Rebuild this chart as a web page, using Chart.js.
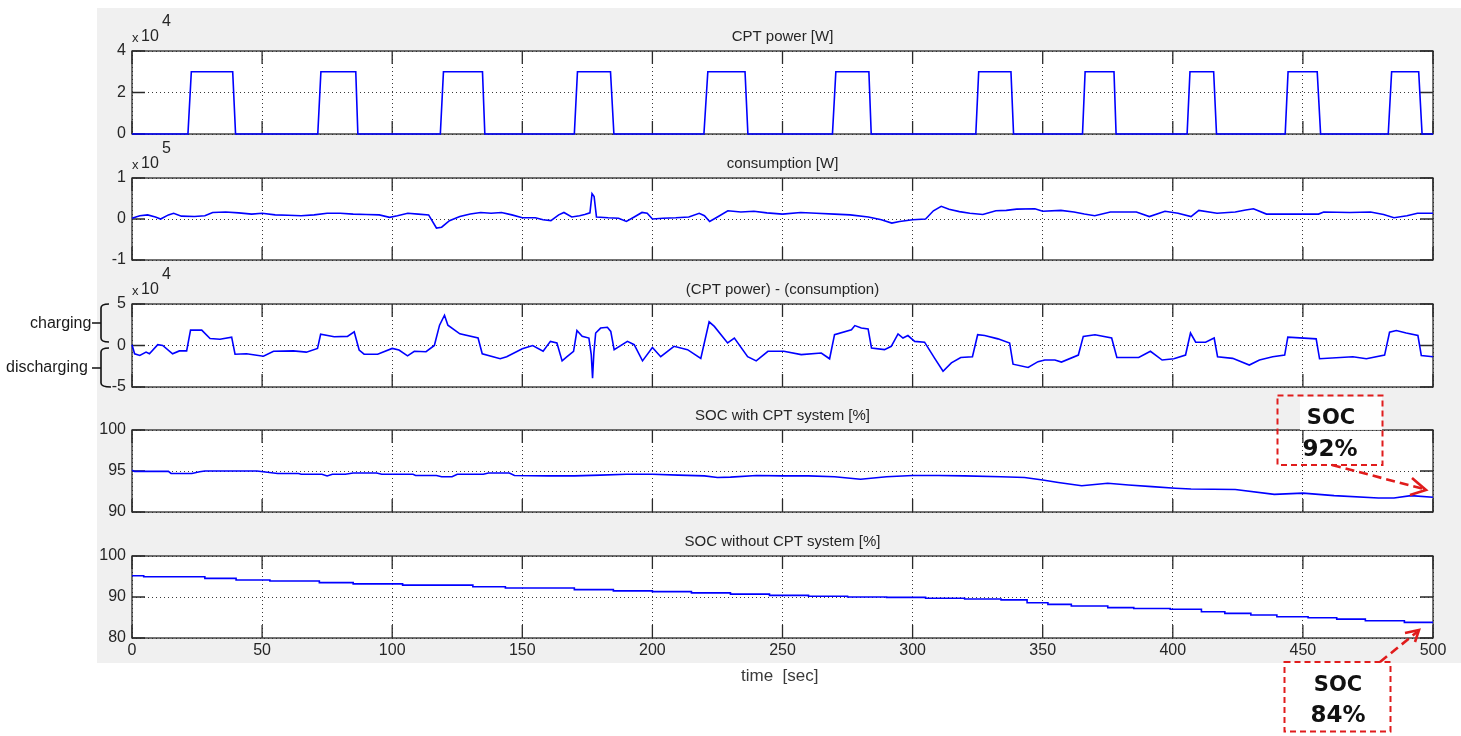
<!DOCTYPE html>
<html>
<head>
<meta charset="utf-8">
<script src="https://cdn.jsdelivr.net/npm/chart.js@4.4.1/dist/chart.umd.min.js"></script>
<style>
  body { margin: 0; width: 1461px; height: 736px; overflow: hidden; position: relative; background: #fff;
         font-family: "Liberation Sans", Arial, sans-serif; }
  #fig { position: absolute; left: 97px; top: 8px; width: 1364px; height: 655px; background: #f0f0f0; }
  .panel { position: absolute; left: 97px; width: 1364px; }
  .lbl { position: absolute; color: #1a1a1a; font-size: 16px; white-space: nowrap; line-height: 1; }
  .soc { position: absolute; width: 110px; text-align: center; font-family: "DejaVu Sans", Verdana, sans-serif;
         font-weight: bold; color: #111; line-height: 1; }
  svg { position: absolute; left: 0; top: 0; }
</style>
</head>
<body>
<div id="fig"></div>

<script>
const FONT = '"Liberation Sans", Arial, sans-serif';

const timeTicks = [0, 50, 100, 150, 200, 250, 300, 350, 400, 450, 500];

// CPT power [W]
const cptTime = [0, 21.5, 22.8, 38.7, 39.8, 71.4, 72.6, 86.0, 86.8, 118.5, 119.7, 134.7, 135.6,
  170.0, 171.2, 183.9, 185.2, 219.8, 221.3, 235.6, 236.7, 269.2, 270.5, 283.2, 284.1,
  324.3, 325.4, 337.8, 338.8, 365.3, 366.3, 377.4, 378.2, 405.5, 406.6, 415.7, 416.8,
  443.2, 444.3, 455.5, 456.8, 482.8, 484.1, 494.5, 495.8, 500];
const cptPower = [0, 0, 30000, 30000, 0, 0, 30000, 30000, 0, 0, 30000, 30000, 0,
  0, 30000, 30000, 0, 0, 30000, 30000, 0, 0, 30000, 30000, 0,
  0, 30000, 30000, 0, 0, 30000, 30000, 0, 0, 30000, 30000, 0,
  0, 30000, 30000, 0, 0, 30000, 30000, 0, 0];
const cptTicks = [0, 20000, 40000];

// consumption [W]
const consTime = [0, 3, 6, 9, 11, 14, 16, 19, 24, 28, 31, 36, 41, 46, 50, 55, 60, 65, 70, 75,
  80, 85, 90, 95, 99, 102, 106, 110, 114, 117, 119, 122, 126, 130, 134, 138, 142, 146, 150, 155,
  158, 161, 164, 166, 169, 172, 174, 176, 176.8, 177.6, 178.5, 183, 187, 190, 193, 196, 198, 200, 204, 209,
  214, 218, 220, 222, 225, 229, 234, 239, 244, 250, 257, 263, 270, 276, 283, 288, 292, 295, 300, 305,
  308, 311, 314, 318, 322, 327, 332, 336, 340, 347, 350, 357, 362, 366, 370, 376, 386, 391, 397, 402,
  407, 410, 417, 424, 428, 431, 436, 445, 456, 458, 468, 476, 481, 485, 490, 494, 500];
const consPower = [2000, 8000, 10000, 5000, 0, 10000, 14000, 7000, 6000, 8000, 16000, 17000, 15000, 12000, 14000, 10000, 9000, 8000, 10000, 14000,
  14000, 12000, 11000, 10000, 4000, 8000, 14000, 12000, 10000, -22000, -20000, -4000, 6000, 12000, 16000, 14000, 16000, 10000, 3000, 3000,
  -2000, -4000, 10000, 16000, 5000, 8000, 11000, 15000, 62000, 55000, 5000, 3000, 2000, -6000, 5000, 16000, 14000, 0, 2000, 3000,
  5000, 14000, 8000, -6000, 5000, 20000, 17000, 19000, 15000, 12000, 16000, 14000, 12000, 10000, 5000, -2000, -10000, -6000, -2000, 0,
  20000, 31000, 24000, 18000, 14000, 11000, 20000, 21000, 24000, 25000, 19000, 21000, 17000, 12000, 8000, 17000, 17000, 6000, 19000, 14000,
  6000, 21000, 14000, 17000, 22000, 25000, 12000, 12000, 12000, 17000, 16000, 17000, 11000, 3000, 8000, 14000, 14000];
const consTicks = [-100000, 0, 100000];

// (CPT power) - (consumption) [W]
const diffTime = [0, 1, 3, 5.4, 6.7, 9.9, 11.8, 15.6, 18.2, 21,
  22.5, 26.8, 30, 33.8, 38.3, 39.6, 44, 50.5, 54.4, 62,
  67, 71.3, 72.5, 77.7, 82.8, 85.4, 87.3, 89.2, 94.4, 100,
  102.6, 105.9, 108.5, 113, 116.2, 118.2, 120.1, 121.4, 126, 133,
  134.6, 141.5, 144, 150, 154, 158, 160.8, 163.3, 165.3, 167.2,
  169.7, 171, 173, 175.6, 176.5, 177, 177.5, 178.2, 180.1, 182.7,
  184, 185.3, 190.4, 193, 196.2, 200, 203.2, 208.3, 213.5, 218.6,
  221.8, 223.8, 228.9, 231.5, 236.6, 239.9, 244.4, 250.5, 257.2, 264.9,
  268.1, 270, 276.5, 277.8, 280.3, 282.9, 284.2, 289.2, 291.8, 294.4,
  296.3, 298.2, 300.8, 304.6, 308.5, 311.7, 314.9, 318.5, 323, 325,
  327.7, 332.8, 337.3, 338.6, 344.4, 348.2, 350.8, 354.7, 357.2, 363.7,
  365.6, 370.1, 376.5, 378.5, 386.9, 391.4, 395.9, 400.4, 404.9, 406.8,
  408.8, 412.6, 415.9, 417.2, 423, 429.4, 433.3, 438.4, 443, 444.2,
  455.1, 456.4, 469.2, 474.4, 481.4, 483.3, 485.9, 489.7, 494.2, 495.5,
  500];
const diffPower = [1000, -10000, -12000, -8000, -10000, 1000, 0, -10000, -6500, -6500,
  18500, 18500, 8500, 7500, 10000, -10500, -10000, -13000, -7000, -6500,
  -8000, -3500, 13500, 10500, 11000, 16500, -5500, -10500, -10500, -3500,
  -5500, -12500, -7000, -7500, 0, 24500, 36500, 24500, 14000, 9000,
  -10000, -16000, -13500, -4000, 0, -7000, 5000, 3000, -18500, -13500,
  -7000, 18000, 11000, 9000, -11000, -39500, -9000, 15000, 21000, 22000,
  17000, -5000, 5000, 1000, -18500, -2500, -13500, -1000, -5000, -15500,
  28500, 23000, 3000, 9000, -13500, -18500, -7000, -7000, -11000, -9000,
  -16000, 13000, 19000, 24000, 21000, 20000, -3000, -5000, -1000, 14000,
  9000, 12000, 5000, 4000, -15500, -31000, -21000, -14500, -13500, 13000,
  12000, 8000, 3000, -22500, -26500, -19500, -17500, -17500, -20000, -11500,
  11000, 13000, 9000, -14500, -14500, -7000, -17500, -16000, -11500, 15000,
  4000, 4000, 9000, -13500, -15500, -23500, -17500, -13500, -11500, 10000,
  8000, -16000, -13500, -16000, -11500, 16000, 18000, 15000, 12000, -12000,
  -13500];
const diffTicks = [-50000, 0, 50000];

// SOC with CPT system [%]
const socCptTime = [0, 1, 14, 15, 23, 26, 28, 48, 52, 56, 64, 65, 73, 75, 77, 82, 85, 94, 96, 108,
  109, 117, 119, 123, 125, 135, 137, 145, 147, 160, 170, 180, 190, 200, 210, 220, 225, 230, 240, 250,
  260, 270, 280, 290, 300, 310, 320, 334, 343, 350, 356, 365, 375, 383, 392, 401, 407, 424, 439, 450,
  462, 479, 485, 491.5, 500];
const socCpt = [95.1, 94.95, 94.95, 94.7, 94.7, 94.9, 95.0, 95.0, 94.85, 94.7, 94.7, 94.6, 94.6, 94.4, 94.6, 94.6, 94.75, 94.75, 94.6, 94.6,
  94.45, 94.45, 94.3, 94.3, 94.6, 94.6, 94.75, 94.75, 94.45, 94.4, 94.4, 94.5, 94.6, 94.6, 94.5, 94.4, 94.2, 94.25, 94.45, 94.4,
  94.4, 94.3, 94.0, 94.3, 94.45, 94.45, 94.4, 94.3, 94.2, 93.9, 93.6, 93.2, 93.5, 93.3, 93.1, 92.9, 92.8, 92.75, 92.15, 92.3,
  92.0, 91.7, 91.7, 92.0, 91.8];
const socCptTicks = [90, 95, 100];

// SOC without CPT system [%]
const socNoTime = [0, 4.5, 28, 40, 53, 72, 85, 104, 131, 143.5, 170, 185, 200, 215, 230, 245, 260, 275, 290, 305,
  320, 334, 344, 352, 361, 375, 385, 399, 411, 420, 430, 440, 452, 463, 474, 489, 500];
const socNo = [95.2, 94.95, 94.55, 94.15, 93.9, 93.5, 93.2, 92.9, 92.5, 92.2, 91.8, 91.5, 91.3, 91.0, 90.7, 90.4, 90.2, 90.0, 89.9, 89.7,
  89.5, 89.3, 88.6, 88.2, 87.8, 87.4, 87.2, 87.0, 86.4, 86.0, 85.6, 85.2, 84.95, 84.6, 84.2, 83.8, 83.8];
const socNoTicks = [80, 90, 100];

// matlab look: white axes, box, inward ticks, "x 10^n" label
const matlabAxes = {
  id: 'matlab',
  beforeDraw(chart) {
    const a = chart.chartArea, ctx = chart.ctx;
    ctx.save();
    ctx.fillStyle = '#fff';
    ctx.fillRect(a.left, a.top, a.right - a.left, a.bottom - a.top);
    ctx.restore();
  },
  beforeDatasetsDraw(chart, args, opts) {
    const a = chart.chartArea, ctx = chart.ctx;
    const xs = chart.scales.x, ys = chart.scales.y;
    const L = 13;
    ctx.save();
    ctx.strokeStyle = '#2a2a2a';
    ctx.lineWidth = 1.3;
    ctx.beginPath();
    xs.ticks.forEach(t => {
      const px = xs.getPixelForValue(t.value);
      ctx.moveTo(px, a.top); ctx.lineTo(px, a.top + L);
      ctx.moveTo(px, a.bottom); ctx.lineTo(px, a.bottom - L);
    });
    ys.ticks.forEach(t => {
      const py = ys.getPixelForValue(t.value);
      ctx.moveTo(a.left, py); ctx.lineTo(a.left + L, py);
      ctx.moveTo(a.right, py); ctx.lineTo(a.right - L, py);
    });
    ctx.stroke();
    ctx.strokeRect(a.left, a.top, a.right - a.left, a.bottom - a.top);
    ctx.restore();
  },
  afterDraw(chart, args, opts) {
    if (!opts.exp) return;
    const a = chart.chartArea, ctx = chart.ctx;
    ctx.save();
    ctx.fillStyle = '#262626';
    ctx.textBaseline = 'middle';
    ctx.font = '13px ' + FONT;
    ctx.fillText('x', a.left, a.top - 13);
    ctx.font = '16px ' + FONT;
    ctx.fillText('10', a.left + 9, a.top - 14);
    ctx.fillText(String(opts.exp), a.left + 30, a.top - 29);
    ctx.restore();
  }
};

const panels = [
  { title: 'CPT power [W]', t: cptTime, v: cptPower, ticks: cptTicks, exp: 4, top: 51, h: 83 },
  { title: 'consumption [W]', t: consTime, v: consPower, ticks: consTicks, exp: 5, top: 178, h: 82 },
  { title: '(CPT power) - (consumption)', t: diffTime, v: diffPower, ticks: diffTicks, exp: 4, top: 304, h: 83 },
  { title: 'SOC with CPT system [%]', t: socCptTime, v: socCpt, ticks: socCptTicks, exp: 0, top: 430, h: 82 },
  { title: 'SOC without CPT system [%]', t: socNoTime, v: socNo, ticks: socNoTicks, exp: 0, top: 556, h: 82, stepped: true }
];

panels.forEach((p, i) => {
  const last = i === panels.length - 1;
  const padBottom = last ? 6 : 18;
  const xH = last ? 24 : 0;
  const wrap = document.createElement('div');
  wrap.className = 'panel';
  wrap.style.top = (p.top - 45) + 'px';
  wrap.style.height = (45 + p.h + padBottom + xH) + 'px';
  const canvas = document.createElement('canvas');
  wrap.appendChild(canvas);
  document.body.appendChild(wrap);

  const grid = { color: '#3a3a3a', lineWidth: 1, drawTicks: false };
  const border = { display: false, dash: [1, 3] };
  const scaleFactor = p.exp ? Math.pow(10, p.exp) : 1;

  new Chart(canvas, {
    type: 'line',
    data: {
      datasets: [{
        data: p.t.map((t, k) => ({ x: t, y: p.v[k] })),
        borderColor: '#0000ff',
        borderWidth: 1.6,
        pointRadius: 0,
        tension: 0,
        stepped: p.stepped || false,
        clip: 4
      }]
    },
    options: {
      responsive: true,
      maintainAspectRatio: false,
      animation: false,
      events: [],
      layout: { padding: { left: 0, right: 28, top: 0, bottom: padBottom } },
      plugins: {
        legend: { display: false },
        tooltip: { enabled: false },
        title: {
          display: true, text: p.title, fullSize: false, color: '#262626',
          font: { family: FONT, size: 15, weight: 'normal' },
          padding: { top: 22, bottom: 5 }
        },
        matlab: { exp: p.exp }
      },
      scales: {
        x: {
          type: 'linear', min: 0, max: 500,
          afterBuildTicks: s => { s.ticks = timeTicks.map(v => ({ value: v })); },
          afterFit: s => { s.height = xH; },
          grid, border,
          ticks: { display: last, padding: 3, color: '#262626', maxRotation: 0,
                   font: { family: FONT, size: 16 } }
        },
        y: {
          min: p.ticks[0], max: p.ticks[p.ticks.length - 1],
          afterBuildTicks: s => { s.ticks = p.ticks.map(v => ({ value: v })); },
          afterFit: s => { s.width = 35; },
          grid, border,
          ticks: { padding: 6, color: '#262626', font: { family: FONT, size: 16 },
                   callback: v => String(Math.round(v / scaleFactor)) }
        }
      }
    },
    plugins: [matlabAxes]
  });
});
</script>

<div class="lbl" style="left:741px; top:667px; color:#3a3a3a; font-size:17px;">time &nbsp;[sec]</div>

<div class="lbl" style="left:30px; top:315px;">charging</div>
<div class="lbl" style="left:6px; top:359px;">discharging</div>

<svg width="1461" height="736">
  <g stroke="#111" stroke-width="1.6" fill="none">
    <path d="M109 304 Q101 304 101 308 V338 Q101 342 109 342 M101 323 H92"/>
    <path d="M109 348 Q101 348 101 352 V383 Q101 387 111 387 M101 368 H92"/>
  </g>
  <rect x="1300" y="397" width="82" height="33" fill="#fff" opacity="0.9"/>
  <rect x="1285" y="662" width="105" height="69" fill="#fff"/>
  <g stroke="#e01c1c" stroke-width="2" fill="none" stroke-dasharray="6 4">
    <rect x="1277.5" y="395.5" width="105" height="69.5"/>
    <rect x="1284.5" y="662" width="106" height="69.5"/>
  </g>
  <g stroke="#e01c1c" stroke-width="2.6" fill="none">
    <line x1="1332" y1="465" x2="1424" y2="489" stroke-dasharray="9 5"/>
    <polyline points="1412,478 1426,490 1410,495"/>
    <line x1="1380" y1="662" x2="1417" y2="632" stroke-dasharray="9 5"/>
    <polyline points="1405,633 1419,630 1415,642"/>
  </g>
</svg>

<div class="soc" style="left:1276px; top:407px; font-size:21px;">SOC</div>
<div class="soc" style="left:1275px; top:437px; font-size:23px;">92%</div>
<div class="soc" style="left:1283px; top:674px; font-size:21px;">SOC</div>
<div class="soc" style="left:1283px; top:703px; font-size:23px;">84%</div>
</body>
</html>
